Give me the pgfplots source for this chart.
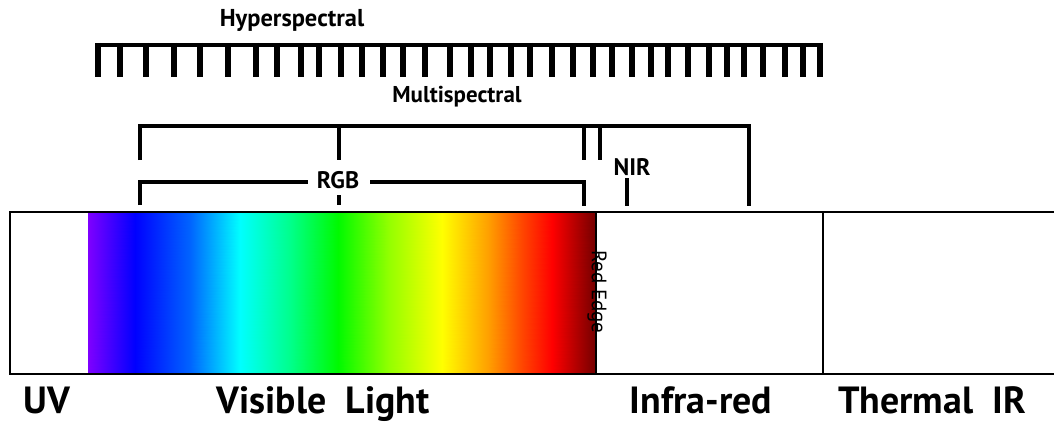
\documentclass[border=0pt]{standalone}
\usepackage{fontspec}
\setmainfont{PT Sans}
\usepackage{pgfplots}
\pgfplotsset{compat=1.18}

% pixel-like coordinates: x to the right, y downwards
\pgfplotstableread{
x y
88 212
135 212
190 212
240 212
290 212
338 212
390 212
442 212
488 212
522 212
552 212
596 212
88 374
135 374
190 374
240 374
290 374
338 374
390 374
442 374
488 374
522 374
552 374
596 374
}\spectrum

% hyperspectral bands (comb teeth)
\pgfplotstableread{
x y
98 43
98 77
nan nan
120 43
120 77
nan nan
146 43
146 77
nan nan
174 43
174 77
nan nan
200 43
200 77
nan nan
228 43
228 77
nan nan
256 43
256 77
nan nan
277 43
277 77
nan nan
301 43
301 77
nan nan
319 43
319 77
nan nan
341 43
341 77
nan nan
362 43
362 77
nan nan
383 43
383 77
nan nan
403 43
403 77
nan nan
425 43
425 77
nan nan
450 43
450 77
nan nan
471 43
471 77
nan nan
490 43
490 77
nan nan
511 43
511 77
nan nan
530 43
530 77
nan nan
552 43
552 77
nan nan
573 43
573 77
nan nan
593 43
593 77
nan nan
612 43
612 77
nan nan
632 43
632 77
nan nan
651 43
651 77
nan nan
668 43
668 77
nan nan
688 43
688 77
nan nan
709 43
709 77
nan nan
727 43
727 77
nan nan
744 43
744 77
nan nan
763 43
763 77
nan nan
785 43
785 77
nan nan
803 43
803 77
nan nan
820 43
820 77
}\teeth

\begin{document}
\begin{tikzpicture}
\begin{axis}[
    width=1054bp, height=423bp, scale only axis,
    hide axis, clip=false,
    xmin=0, xmax=1054, ymin=0, ymax=423, y dir=reverse,
    unbounded coords=jump,
    colormap={spec}{
      rgb255(88pt)=(127,0,255)
      rgb255(135pt)=(0,0,255)
      rgb255(190pt)=(0,100,255)
      rgb255(240pt)=(0,255,255)
      rgb255(290pt)=(0,255,140)
      rgb255(338pt)=(0,250,0)
      rgb255(390pt)=(150,255,0)
      rgb255(442pt)=(255,255,0)
      rgb255(488pt)=(255,160,0)
      rgb255(522pt)=(255,70,0)
      rgb255(552pt)=(255,0,0)
      rgb255(596pt)=(115,0,0)
    },
  ]
  % visible spectrum
  \addplot[surf, shader=interp, mesh/cols=12, point meta=x,
    point meta min=88, point meta max=596] table {\spectrum};

  % spectrum box
  \addplot[black, line width=2bp] coordinates {
    (1054,212) (10,212) (10,374) (1054,374)};
  \addplot[black, line width=2bp] coordinates {(596,212) (596,374)};
  \addplot[black, line width=2bp] coordinates {(823,212) (823,374)};

  % hyperspectral comb
  \addplot[black, line width=4bp] coordinates {(95,45) (823,45)};
  \addplot[black, line width=6bp] table {\teeth};

  % multispectral bracket
  \addplot[black, line width=4.5bp] coordinates {
    (140,160) (140,126) (749,126) (749,206)};
  \addplot[black, line width=4.5bp] coordinates {
    (339,126) (339,160) (nan,nan) (584,126) (584,160) (nan,nan) (600,126) (600,160)};

  % RGB bracket
  \addplot[black, line width=4bp] coordinates {
    (140,205) (140,182) (308,182)};
  \addplot[black, line width=4bp] coordinates {
    (370,182) (584,182) (584,206)};
  \addplot[black, line width=4bp] coordinates {(339,195) (339,205)};

  % NIR tick
  \addplot[black, line width=4bp] coordinates {(627,178) (627,206)};

  \node[anchor=base, font=\bfseries\fontsize{24.5}{24}\selectfont] at (axis cs:292,27) {Hyperspectral};
  \node[anchor=base, font=\bfseries\fontsize{23}{23}\selectfont] at (axis cs:457,102) {Multispectral};
  \node[anchor=base, font=\bfseries\fontsize{24}{24}\selectfont] at (axis cs:338,188) {RGB};
  \node[anchor=base, font=\bfseries\fontsize{24}{24}\selectfont] at (axis cs:632,175) {NIR};
  \node[rotate=-90, font=\fontsize{21}{21}\selectfont, inner sep=0pt] at (axis cs:597,292) {Red Edge};

  \node[anchor=base, font=\bfseries\fontsize{38}{38}\selectfont] at (axis cs:47,413) {UV};
  \node[anchor=base, font=\bfseries\fontsize{38}{38}\selectfont] at (axis cs:323,413) {Visible\ \ Light};
  \node[anchor=base, font=\bfseries\fontsize{38}{38}\selectfont] at (axis cs:701,413) {Infra-red};
  \node[anchor=base, font=\bfseries\fontsize{38}{38}\selectfont] at (axis cs:932,413) {Thermal\ \ IR};
\end{axis}
\pgfresetboundingbox
\path[use as bounding box] (current axis.south west) rectangle (current axis.north east);
\end{tikzpicture}
\end{document}
